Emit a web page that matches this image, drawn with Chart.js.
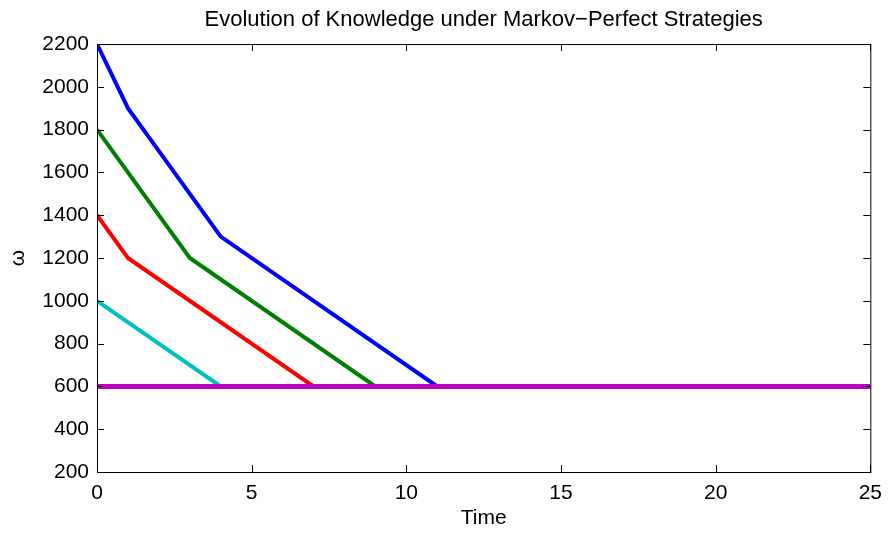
<!DOCTYPE html>
<html>
<head>
<meta charset="utf-8">
<script src="https://cdn.jsdelivr.net/npm/chart.js@4.4.1/dist/chart.umd.min.js"></script>
<style>
  html, body { margin: 0; padding: 0; background: #fff; }
  #wrap { width: 891px; height: 535px; }
</style>
</head>
<body>
<div id="wrap"><canvas id="knowledge"></canvas></div>
<script>
// breakpoints of each path (time, omega)
const blueTime = [0, 1, 4, 11, 25];
const blueOmega = [2200, 1900, 1300, 600, 600];
const greenTime = [0, 3, 9, 25];
const greenOmega = [1800, 1200, 600, 600];
const redTime = [0, 1, 7, 25];
const redOmega = [1400, 1200, 600, 600];
const cyanTime = [0, 4, 25];
const cyanOmega = [1000, 600, 600];
const magentaTime = [0, 25];
const magentaOmega = [600, 600];

const xTicks = [0, 5, 10, 15, 20, 25];
const yTicks = [200, 400, 600, 800, 1000, 1200, 1400, 1600, 1800, 2000, 2200];

const FONT = 'Liberation Sans, Arial, Helvetica, sans-serif';

function toPoints(times, values) {
    return times.map((t, i) => ({ x: t, y: values[i] }));
}

// MATLAB style box with inward ticks on all four sides
const boxPlugin = {
    id: 'matlabBox',
    afterDraw(chart) {
        const { ctx, chartArea: a, scales } = chart;
        const len = 7;
        ctx.save();
        ctx.strokeStyle = '#000';
        ctx.lineWidth = 1;
        ctx.beginPath();
        for (const v of xTicks) {
            const px = Math.round(scales.x.getPixelForValue(v)) + 0.5;
            ctx.moveTo(px, a.bottom);
            ctx.lineTo(px, a.bottom - len);
            ctx.moveTo(px, a.top);
            ctx.lineTo(px, a.top + len);
        }
        for (const v of yTicks) {
            const py = Math.round(scales.y.getPixelForValue(v)) + 0.5;
            ctx.moveTo(a.left, py);
            ctx.lineTo(a.left + len, py);
            ctx.moveTo(a.right, py);
            ctx.lineTo(a.right - len, py);
        }
        ctx.stroke();
        ctx.strokeRect(a.left + 0.5, a.top + 0.5, a.right - a.left, a.bottom - a.top);
        ctx.restore();
    },
};

const lineStyle = (color, width) => ({
    borderColor: color,
    backgroundColor: color,
    borderWidth: width,
    pointRadius: 0,
    fill: false,
    tension: 0,
});

new Chart(document.getElementById('knowledge'), {
    type: 'line',
    data: {
        datasets: [
            // first dataset is painted last, so the 600 floor sits on top
            { data: toPoints(magentaTime, magentaOmega), ...lineStyle('#bf00bf', 5) },
            { data: toPoints(blueTime, blueOmega), ...lineStyle('#0000ff', 4) },
            { data: toPoints(greenTime, greenOmega), ...lineStyle('#007f00', 4) },
            { data: toPoints(redTime, redOmega), ...lineStyle('#ff0000', 4) },
            { data: toPoints(cyanTime, cyanOmega), ...lineStyle('#00bfbf', 4) },
        ],
    },
    plugins: [boxPlugin],
    options: {
        responsive: true,
        maintainAspectRatio: false,
        animation: false,
        layout: { padding: { left: 0, right: 18, top: 0, bottom: 0 } },
        plugins: {
            legend: { display: false },
            tooltip: { enabled: false },
            title: {
                display: true,
                text: 'Evolution of Knowledge under Markov\u2212Perfect Strategies',
                fullSize: false,
                color: '#000',
                font: { family: FONT, size: 22, weight: 'normal' },
                padding: { top: 7, bottom: 10.6 },
            },
        },
        scales: {
            x: {
                type: 'linear',
                min: 0,
                max: 25,
                afterFit(scale) { scale.height = 63; },
                afterBuildTicks(scale) { scale.ticks = xTicks.map((v) => ({ value: v })); },
                grid: { display: false, drawTicks: false },
                border: { display: false },
                ticks: {
                    color: '#000',
                    padding: 9,
                    maxRotation: 0,
                    font: { family: FONT, size: 21 },
                    callback: (v) => String(v),
                },
                title: {
                    display: true,
                    text: 'Time',
                    color: '#000',
                    font: { family: FONT, size: 21 },
                    padding: { top: 0, bottom: 4 },
                },
            },
            y: {
                type: 'linear',
                min: 200,
                max: 2200,
                afterFit(scale) { scale.width = 97; },
                afterBuildTicks(scale) { scale.ticks = yTicks.map((v) => ({ value: v })); },
                grid: { display: false, drawTicks: false },
                border: { display: false },
                ticks: {
                    color: '#000',
                    padding: 8,
                    font: { family: FONT, size: 21 },
                    callback: (v) => String(v),
                },
                title: {
                    display: true,
                    text: '\u03c9',
                    color: '#000',
                    font: { family: FONT, size: 21 },
                    padding: { top: 6, bottom: 0 },
                },
            },
        },
    },
});
</script>
</body>
</html>
